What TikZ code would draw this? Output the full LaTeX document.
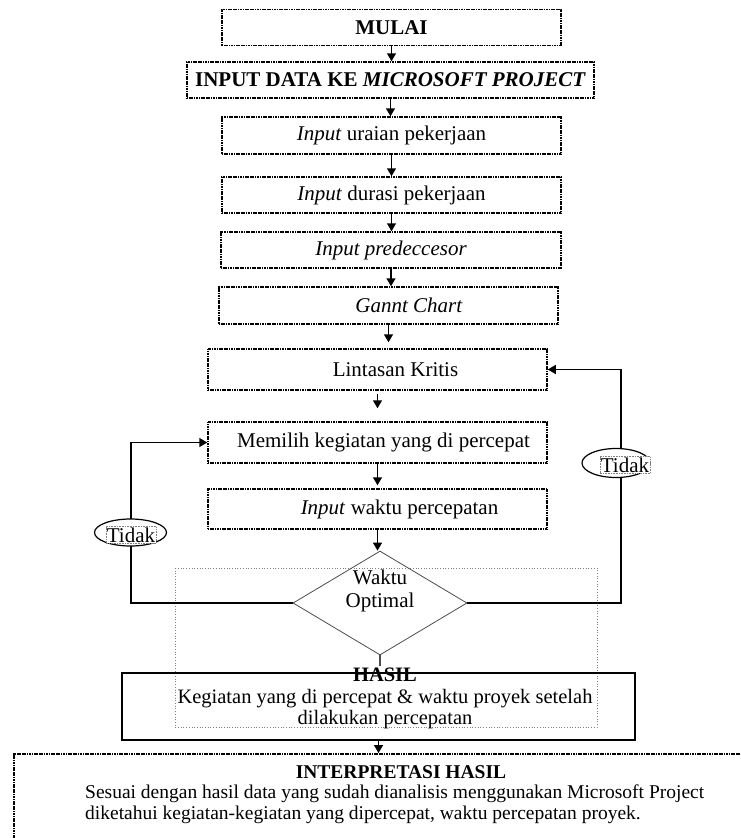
\documentclass[tikz,border=0pt]{standalone}
\usepackage{fontspec}
\setmainfont{Liberation Serif}
\usepackage{tikz}
\usetikzlibrary{shapes.geometric, arrows.meta, positioning, calc}

\tikzset{
  procbox/.style={draw, line width=1.5pt, dash pattern=on 1.2pt off 0.5pt, minimum width=339pt, minimum height=36pt, inner sep=0pt},
  flow/.style={-{Triangle[length=8pt,width=9pt]}, line width=1.5pt},
  tidakmark/.style={ellipse, draw, line width=1.2pt, fill=white, minimum width=72pt, minimum height=27pt},
  tidaktext/.style={draw=gray, densely dotted, line width=0.6pt, inner sep=1pt, fill=white},
}

\begin{document}
\begin{tikzpicture}[x=1pt, y=-1pt, font=\fontsize{21}{23}\selectfont]
\useasboundingbox (0,0) rectangle (741,838);

% main column
\node[procbox] (mulai) at (391.5,27.5) {\textbf{MULAI}};
\node[procbox, minimum width=407pt] (inputdata) at (390.5,80) {\textbf{INPUT DATA KE \textit{MICROSOFT PROJECT}}};
\node[procbox, minimum height=37pt] (uraian) at (391.5,135.5) {\textit{Input} uraian pekerjaan};
\node[procbox] (durasi) at (391.5,195) {\textit{Input} durasi pekerjaan};
\node[procbox, minimum width=340pt] (predec) at (391,250) {\textit{Input predeccesor}};
\node[procbox, minimum height=37pt] (gannt) at (388.5,305.5) {\hspace*{41pt}\textit{Gannt Chart}};
\node[procbox, minimum height=41pt] (lintasan) at (377.5,369.5) {\hspace*{36pt}Lintasan Kritis};
\node[procbox, minimum height=41pt] (memilih) at (377.5,442.5) {\hspace*{12pt}Memilih kegiatan yang di percepat};
\node[procbox, minimum height=40pt] (waktu) at (377.5,509) {\hspace*{44pt}\textit{Input} waktu percepatan};

% keputusan
\draw[gray, dotted, line width=0.7pt] (175,568) rectangle (597,727);
\node[diamond, draw=black!70, line width=0.8pt, minimum width=174pt, minimum height=104pt, inner sep=0pt] (optimal) at (380,603) {};
\node[align=center] (optimaltxt) at (380,591) {Waktu\\Optimal};

% hasil
\node[draw, line width=1.1pt, minimum width=513pt, minimum height=67pt] (hasil) at (378.5,706.5) {};
\node[align=center, font=\fontsize{20.5}{21.5}\selectfont] (hasiltxt) at (385,698.5) {\textbf{HASIL}\\Kegiatan yang di percepat \& waktu proyek setelah\\dilakukan percepatan};

% interpretasi
\node[procbox, minimum width=757pt, minimum height=117pt, anchor=north west] (interp) at (13,753) {};
\node[font=\fontsize{19.5}{21.5}\selectfont\bfseries] (interpjudul) at (401,772) {INTERPRETASI HASIL};
\node[align=left, anchor=west, inner sep=0pt, font=\fontsize{19.5}{21.5}\selectfont] (interptxt) at (85,804) {Sesuai dengan hasil data yang sudah dianalisis menggunakan Microsoft Project\\diketahui kegiatan-kegiatan yang dipercepat, waktu percepatan proyek.};

% arrows
\draw[flow] (mulai.south) -- (mulai.south |- inputdata.north);
\draw[flow] (inputdata.south) -- (inputdata.south |- uraian.north);
\draw[flow] (uraian.south) -- (uraian.south |- durasi.north);
\draw[flow] (durasi.south) -- (durasi.south |- predec.north);
\draw[flow] (predec.south) -- (predec.south |- gannt.north);
\draw[flow, shorten >=6pt] (gannt.south) -- (gannt.south |- lintasan.north);
\draw[flow, shorten <=3pt, shorten >=13pt] (lintasan.south) -- (lintasan.south |- memilih.north);
\draw[flow, shorten >=3pt] (memilih.south) -- (memilih.south |- waktu.north);
\draw[flow] (waktu.south) -- (waktu.south |- optimal.north);
\draw[line width=1.5pt, black!70, shorten >=6pt] (optimal.south) -- (hasil.north -| optimal.south);
\draw[flow] (hasil.south) -- (hasil.south |- interp.north);

% loops
\coordinate (belokkiri) at (131,0);
\coordinate (belokkanan) at (621,0);
\draw[flow] (optimal.west) -- (optimal.west -| belokkiri) |- (memilih.west);
\draw[flow] (optimal.east) -- (optimal.east -| belokkanan) |- (lintasan.east);

% tidak
\node[tidakmark] (tidakkiri) at (130.5,532.5) {};
\node[tidaktext] (tidakkiritxt) at (131,535) {Tidak};
\node[tidakmark, minimum width=68pt, minimum height=29pt] (tidakkanan) at (616,463) {};
\node[tidaktext] (tidakkanantxt) at (625,465) {Tidak};
\end{tikzpicture}
\end{document}
